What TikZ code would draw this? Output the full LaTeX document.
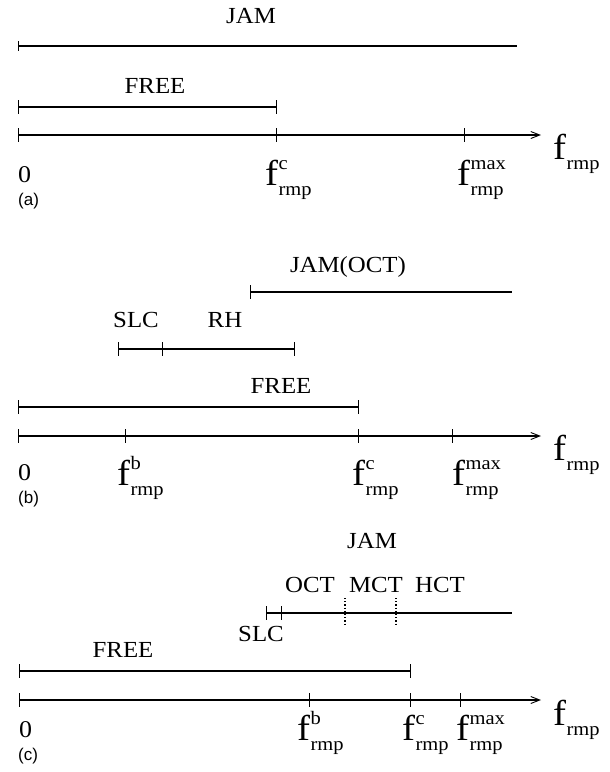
\documentclass[tikz,border=0pt]{standalone}
\usepackage{fontspec}
\setmainfont{Liberation Serif}[FakeStretch=1.08]
\newfontfamily\sansf{Liberation Sans}
\usetikzlibrary{arrows.meta}
\newcommand{\flab}[2]{{\fontsize{36}{36}\selectfont f}\kern0.5pt\rlap{\raisebox{16pt}{\fontsize{19}{19}\selectfont #1}}\raisebox{-10pt}{\fontsize{19}{19}\selectfont #2}}
\newcommand{\faxis}{{\fontsize{36}{36}\selectfont f}\kern0.5pt\raisebox{-10pt}{\fontsize{19}{19}\selectfont rmp}}
\tikzset{
  x=1pt, y=-1pt,
  seg/.style={line width=1.1pt, line cap=butt},
  axisline/.style={line width=1.1pt, -{Straight Barb[length=9pt,width=7pt,line width=0.9pt]}},
  tk/.style={line width=1pt},
  dots/.style={line width=1.2pt, dotted},
  lab/.style={inner sep=0pt, anchor=base, font=\fontsize{23}{23}\selectfont},
  tlab/.style={inner sep=0pt, anchor=base west},
  zlab/.style={inner sep=0pt, anchor=base west, font=\fontsize{24}{24}\selectfont},
  plab/.style={inner sep=0pt, anchor=base west, font=\sansf\fontsize{17}{17}\selectfont},
}
\newcommand{\tick}[1]{\draw[tk] (#1) ++(0,-7) -- ++(0,14);}
\begin{document}
\begin{tikzpicture}
\useasboundingbox (0,0) rectangle (610,772);
% ---------------- panel (a)
\node[lab] (aJAM) at (251,23) {JAM};
\coordinate (aj0) at (18,46); \coordinate (aj1) at (517,46);
\draw[seg] (aj0) -- (aj1);
\draw[tk, line width=0.5pt] (aj0) ++(0,-5) -- ++(0,10);
\node[lab] (aFREE) at (155,93) {FREE};
\coordinate (af0) at (18,107); \coordinate (af1) at (276,107);
\draw[seg] (af0) -- (af1); \tick{af0} \tick{af1}
\coordinate (ax0) at (18,135); \coordinate (axc) at (276,135); \coordinate (axm) at (464,135); \coordinate (axe) at (541,135);
\draw[axisline] (ax0) -- (axe); \tick{ax0} \tick{axc} \tick{axm}
\node[zlab] (a0) at (18,182) {0};
\node[tlab] (afc) at (265,185) {\flab{c}{rmp}};
\node[tlab] (afm) at (457,185) {\flab{max}{rmp}};
\node[tlab] (afr) at (553,159) {\faxis};
\node[plab] (apl) at (18,205) {(a)};
% ---------------- panel (b)
\node[lab] (bJAM) at (348,272) {JAM(OCT)};
\coordinate (bj0) at (250,292); \coordinate (bj1) at (512,292);
\draw[seg] (bj0) -- (bj1); \tick{bj0}
\node[lab] (bSLC) at (136,327) {SLC};
\node[lab] (bRH) at (225,327) {RH};
\coordinate (bs0) at (118,349); \coordinate (bs1) at (162,349); \coordinate (bs2) at (294,349);
\draw[seg] (bs0) -- (bs2); \tick{bs0} \tick{bs1} \tick{bs2}
\node[lab] (bFREE) at (281,393) {FREE};
\coordinate (bf0) at (18,407); \coordinate (bf1) at (358,407);
\draw[seg] (bf0) -- (bf1); \tick{bf0} \tick{bf1}
\coordinate (bx0) at (18,436); \coordinate (bxb) at (125,436); \coordinate (bxc) at (358,436); \coordinate (bxm) at (452,436); \coordinate (bxe) at (541,436);
\draw[axisline] (bx0) -- (bxe); \tick{bx0} \tick{bxb} \tick{bxc} \tick{bxm}
\node[zlab] (b0) at (18,480) {0};
\node[tlab] (bfb) at (117,485) {\flab{b}{rmp}};
\node[tlab] (bfc) at (352,485) {\flab{c}{rmp}};
\node[tlab] (bfm) at (452,485) {\flab{max}{rmp}};
\node[tlab] (bfr) at (553,460) {\faxis};
\node[plab] (bpl) at (18,503) {(b)};
% ---------------- panel (c)
\node[lab] (cJAM) at (372,548) {JAM};
\node[lab] (cOCT) at (310,592) {OCT};
\node[lab] (cMCT) at (376,592) {MCT};
\node[lab] (cHCT) at (440,592) {HCT};
\coordinate (cj0) at (266,613); \coordinate (cj1) at (281,613); \coordinate (cj2) at (512,613);
\draw[seg] (cj0) -- (cj2); \tick{cj0} \tick{cj1}
\coordinate (cd1a) at (345,598); \coordinate (cd1b) at (345,626);
\coordinate (cd2a) at (396,598); \coordinate (cd2b) at (396,626);
\draw[dots] (cd1a) -- (cd1b); \draw[dots] (cd2a) -- (cd2b);
\node[lab] (cSLC) at (261,641) {SLC};
\node[lab] (cFREE) at (123,657) {FREE};
\coordinate (cf0) at (19,671); \coordinate (cf1) at (410,671);
\draw[seg] (cf0) -- (cf1); \tick{cf0} \tick{cf1}
\coordinate (cx0) at (19,700); \coordinate (cxb) at (309,700); \coordinate (cxc) at (410,700); \coordinate (cxm) at (460,700); \coordinate (cxe) at (541,700);
\draw[axisline] (cx0) -- (cxe); \tick{cx0} \tick{cxb} \tick{cxc} \tick{cxm}
\node[zlab] (c0) at (19,737) {0};
\node[tlab] (cfb) at (297,740) {\flab{b}{rmp}};
\node[tlab] (cfc) at (402,740) {\flab{c}{rmp}};
\node[tlab] (cfm) at (456,740) {\flab{max}{rmp}};
\node[tlab] (cfr) at (553,725) {\faxis};
\node[plab] (cpl) at (18,760) {(c)};
\end{tikzpicture}
\end{document}
